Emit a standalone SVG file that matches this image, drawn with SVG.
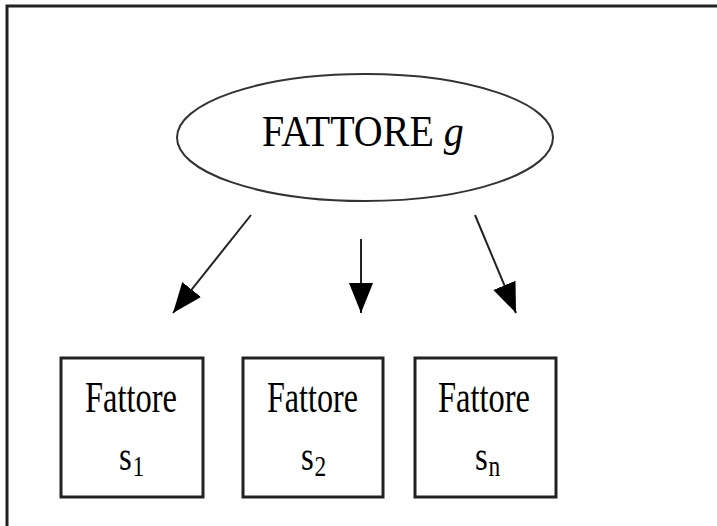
<svg xmlns="http://www.w3.org/2000/svg" width="717" height="526" viewBox="0 0 717 526">
<style>
.t{font-family:"Liberation Serif","Times New Roman",serif;fill:#000}
.s{font-size:42px}
.sub{font-size:30px}
.box{fill:#fff;stroke:#222;stroke-width:3}
.conn{stroke:#222;stroke-width:2;fill:none}
</style>
<defs>
<marker id="ah" markerUnits="userSpaceOnUse" markerWidth="32" markerHeight="26" refX="30" refY="12" orient="auto">
<path d="M0,0 L30,12 L0,24 Z" fill="#000"/>
</marker>
</defs>
<rect width="717" height="526" fill="#fff"/>
<path d="M7,526 V6 H717" fill="none" stroke="#222" stroke-width="3"/>
<g id="g">
<ellipse cx="365" cy="137.5" rx="188" ry="63.5" fill="#fff" stroke="#333" stroke-width="2"/>
<text class="t" transform="translate(262,146) scale(1,1.12)" font-size="40">FATTORE <tspan font-style="italic">g</tspan></text>
</g>
<g id="connectors">
<line class="conn" x1="251" y1="215" x2="173" y2="313" marker-end="url(#ah)"/>
<line class="conn" x1="361" y1="239" x2="361" y2="313" stroke="#777" marker-end="url(#ah)"/>
<line class="conn" x1="475" y1="215" x2="516" y2="313" marker-end="url(#ah)"/>
</g>
<g id="s1">
<rect class="box" x="61" y="358" width="142" height="139"/>
<text class="t" x="85" y="412" font-size="44" textLength="92" lengthAdjust="spacingAndGlyphs">Fattore</text>
<text class="t" x="119" y="470" transform="translate(119,0) scale(0.78,1) translate(-119,0)"><tspan class="s">s</tspan><tspan class="sub" dy="6" dx="1">1</tspan></text>
</g>
<g id="s2">
<rect class="box" x="243" y="358" width="140" height="139"/>
<text class="t" x="267" y="412" font-size="44" textLength="91" lengthAdjust="spacingAndGlyphs">Fattore</text>
<text class="t" x="301" y="470" transform="translate(301,0) scale(0.78,1) translate(-301,0)"><tspan class="s">s</tspan><tspan class="sub" dy="6" dx="1">2</tspan></text>
</g>
<g id="sn">
<rect class="box" x="415" y="358" width="141" height="139"/>
<text class="t" x="438" y="412" font-size="44" textLength="92" lengthAdjust="spacingAndGlyphs">Fattore</text>
<text class="t" x="475" y="470" transform="translate(475,0) scale(0.78,1) translate(-475,0)"><tspan class="s">s</tspan><tspan class="sub" dy="6" dx="1">n</tspan></text>
</g>
</svg>
